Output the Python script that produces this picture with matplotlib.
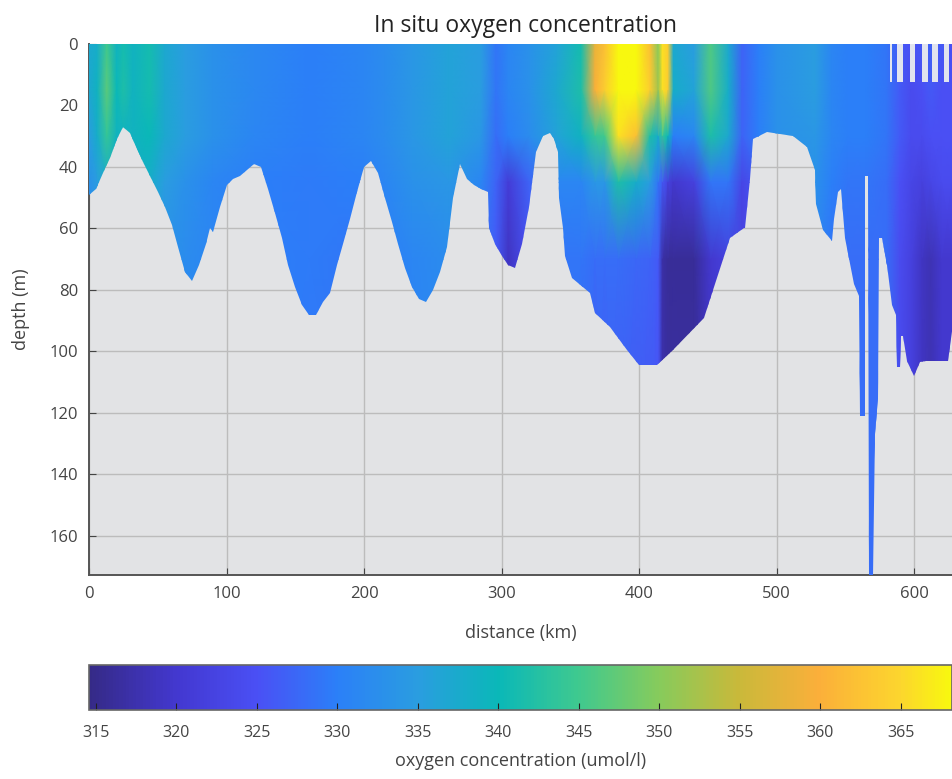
import matplotlib
matplotlib.use('Agg')
import matplotlib.pyplot as plt
import numpy as np
from matplotlib.colors import LinearSegmentedColormap, Normalize
from matplotlib.path import Path

plt.rcParams['font.family'] = ['Open Sans', 'DejaVu Sans']

# stations along the section (km) and sampled depths (m)
station_km = [0, 6, 13, 20, 25, 32, 44, 55, 70, 90, 120, 160,
              200, 215, 235, 262, 285, 296, 305, 320, 340, 358, 368, 375,
              385, 398, 408, 414, 417, 421, 425, 440, 452, 465, 475, 487,
              500, 528, 540, 552, 565, 580, 590, 598, 606, 612, 620, 628]
depth_levels = [0, 15, 30, 45, 70, 173]

o2_0m = [337, 338, 345, 339, 341, 339, 341, 337, 335, 333, 331.5, 330,
         331, 332, 334, 336, 335, 329, 331, 333, 336, 341, 358, 362,
         368, 368, 362, 350, 366, 364, 337, 335, 346, 337, 327, 330,
         333, 335, 331, 330, 330, 329, 326, 325, 326, 327, 326, 325]
o2_15m = [337, 339, 347, 340, 342, 339, 341, 337, 335, 333, 331.5, 330,
          331, 332, 334, 336, 335, 329, 331, 333, 337, 342, 360, 364,
          369, 369, 364, 352, 366, 364, 338, 336, 346, 338, 327, 330,
          333, 335, 331, 330, 330, 329, 326, 324, 325, 326, 325, 325]
o2_30m = [335, 338, 344, 339, 339, 339, 340, 337, 335, 333, 331, 330,
          331, 332, 334, 336, 334, 328, 330, 332, 336, 339, 344, 345,
          366, 362, 342, 338, 344, 340, 330, 331, 342, 337, 327, 330,
          333, 334, 331, 330, 330, 329, 326, 324, 324, 325, 325, 325]
o2_45m = [333, 335, 338, 337, 337, 338, 338, 335, 333, 331, 330, 329.5,
          330, 331, 333, 334, 331, 327, 321, 327, 331, 331, 334, 334,
          342, 338, 335, 329, 326, 322, 320, 322, 329, 329, 323, 326,
          331, 333, 330, 329, 329, 328, 325, 323, 322, 323, 324, 324]
o2_70m = [331, 332, 334, 334, 334, 334, 335, 333, 332, 331, 330, 329.5,
          329, 330, 331, 332, 329, 326, 319, 325, 329, 329, 328, 328,
          328, 327.5, 327, 326, 317, 316, 316, 316, 320, 322, 322, 325,
          329, 331, 329, 328, 328, 328, 324, 322, 319, 318, 320, 320]
o2_deep = [330, 331, 332, 332, 332, 332, 332, 331, 331, 330, 329.5, 329,
           329, 329, 330, 330, 328, 326, 319, 325, 328, 327, 325, 325,
           325, 325, 325, 325, 318, 317, 317, 317, 318, 320, 321, 324,
           328, 330, 329, 328, 328, 328, 324, 322, 319, 318, 320, 320]

# sea floor outline
floor_km = [0, 0, 5, 10, 15, 20, 25, 30, 35, 40, 50, 55, 60, 65, 70, 75, 80, 85, 88, 90, 95,
            100, 105, 110, 115, 120, 125, 130, 135, 140, 145, 150, 155, 160, 165, 170,
            175, 180, 185, 190, 195, 200, 205, 210, 215, 220, 225, 230, 235, 240, 245,
            250, 255, 260, 265, 270, 275, 280, 285, 290, 291, 295, 300, 305, 310, 315,
            320, 325, 330, 335, 338, 341, 342, 345, 346, 351, 364, 368, 379, 391, 400,
            413, 425, 447, 455, 466, 476, 477, 481, 483, 493, 512, 522, 528, 529, 534,
            540, 542, 545, 547, 550, 556, 560, 561, 564, 564.5, 566.5, 567, 570, 571.6,
            574, 574.5, 577, 580, 584, 587, 587.5, 590, 590.5, 592, 595, 600, 604, 609,
            625, 628, 628]
floor_depth = [0, 49, 47, 42, 37, 31, 27, 29, 34, 39, 48, 53, 59, 66, 74, 77, 72, 65, 60, 61, 53,
               46, 44, 43, 41, 39, 40, 47, 55, 63, 72, 79, 85, 88, 88, 84,
               81, 72, 65, 57, 48, 40, 38, 42, 50, 58, 65, 73, 79, 83, 84,
               80, 74, 66, 50, 39, 44, 46, 47, 48, 60, 65, 69, 72, 73, 65,
               53, 35, 30, 29, 31, 35, 50, 60, 69, 76, 81, 87.5, 92, 99.5, 104.5,
               104.5, 99.5, 89, 78, 63, 60, 60, 44, 31, 28.6, 30, 33.5, 41, 52, 60.5,
               64, 57, 48, 47, 63, 78, 82, 121, 121, 43, 43, 173, 173, 127,
               115, 63, 63, 72, 85, 88, 105, 105, 95, 95, 103, 108, 103.5, 103,
               103, 91, 0]

# surface gaps on the right (no data)
gap_start_km = [582.5, 587.6, 597, 606, 613, 622]
gap_width_km = [1.2, 4.4, 3.6, 4, 4.5, 3.7]
gap_depth = [12.4, 12.4, 12.4, 12.4, 12.4, 12.4]

cmap_values = [314.57, 320, 325, 330, 335, 340, 345, 350, 355, 360, 365, 368.2]
cmap_colors = ['#352a87', '#4338d0', '#4a50f5', '#2b80f8', '#2a9de0', '#0ab8b8',
               '#3fc98f', '#86cb5c', '#c9b93a', '#fbaf3a', '#fcd52e', '#f8f80f']

x_ticks = [0, 100, 200, 300, 400, 500, 600]
y_ticks = [0, 20, 40, 60, 80, 100, 120, 140, 160]
cbar_ticks = [315, 320, 325, 330, 335, 340, 345, 350, 355, 360, 365]

vmin, vmax = cmap_values[0], cmap_values[-1]
parula = LinearSegmentedColormap.from_list(
    'parula_like', [((v - vmin) / (vmax - vmin), c) for v, c in zip(cmap_values, cmap_colors)], N=256)
norm = Normalize(vmin, vmax)

W, H = 952.0, 779.0
fig = plt.figure(figsize=(W / 100, H / 100), dpi=100)
ax = fig.add_axes([89 / W, 1 - 575 / H, 1 - 89 / W, (575 - 44) / H])
cax = fig.add_axes([89 / W, 1 - 710 / H, 1 - 89 / W, (710 - 665) / H])

gray = '#e2e3e5'
ax.set_facecolor(gray)
ax.set_axisbelow(True)
ax.grid(True, color='#bcbcbc', lw=1)

o2 = np.array([o2_0m, o2_15m, o2_30m, o2_45m, o2_70m, o2_deep])
mesh = ax.pcolormesh(station_km, depth_levels, o2, cmap=parula, norm=norm,
                     shading='gouraud', zorder=3)
mesh.set_clip_path(Path(np.column_stack([floor_km, floor_depth])), ax.transData)
ax.bar(gap_start_km, gap_depth, gap_width_km, align='edge', color='#e1e4ee', zorder=4)

ax.set_xlim(0, 627.6)
ax.set_ylim(172.7, 0)
ax.set_xticks(x_ticks)
ax.set_yticks(y_ticks)
ax.tick_params(direction='in', length=5, width=0.8, color='#444444', labelsize=12,
               labelcolor='#444444', pad=8)
for side in ['top', 'right']:
    ax.spines[side].set_visible(False)
for side in ['left', 'bottom']:
    ax.spines[side].set_color('#555555')
    ax.spines[side].set_linewidth(1.4)
ax.set_xlabel('distance (km)', fontsize=13, color='#444444', labelpad=16)
ax.set_ylabel('depth (m)', fontsize=13, color='#444444', labelpad=14)
ax.set_title('In situ oxygen concentration', fontsize=16.5, color='#222222', x=(525 - 89) / (W - 89), pad=9)

cb = fig.colorbar(mesh, cax=cax, orientation='horizontal', ticks=cbar_ticks)
cb.outline.set_edgecolor('#666666')
cb.outline.set_linewidth(1.2)
cb.ax.tick_params(direction='in', length=5, width=0.8, color='#222222', labelsize=11.5,
                  labelcolor='#444444', pad=11)
cb.set_label('oxygen concentration (umol/l)', fontsize=13, color='#444444', labelpad=8)

plt.savefig('out.png', dpi=100)
